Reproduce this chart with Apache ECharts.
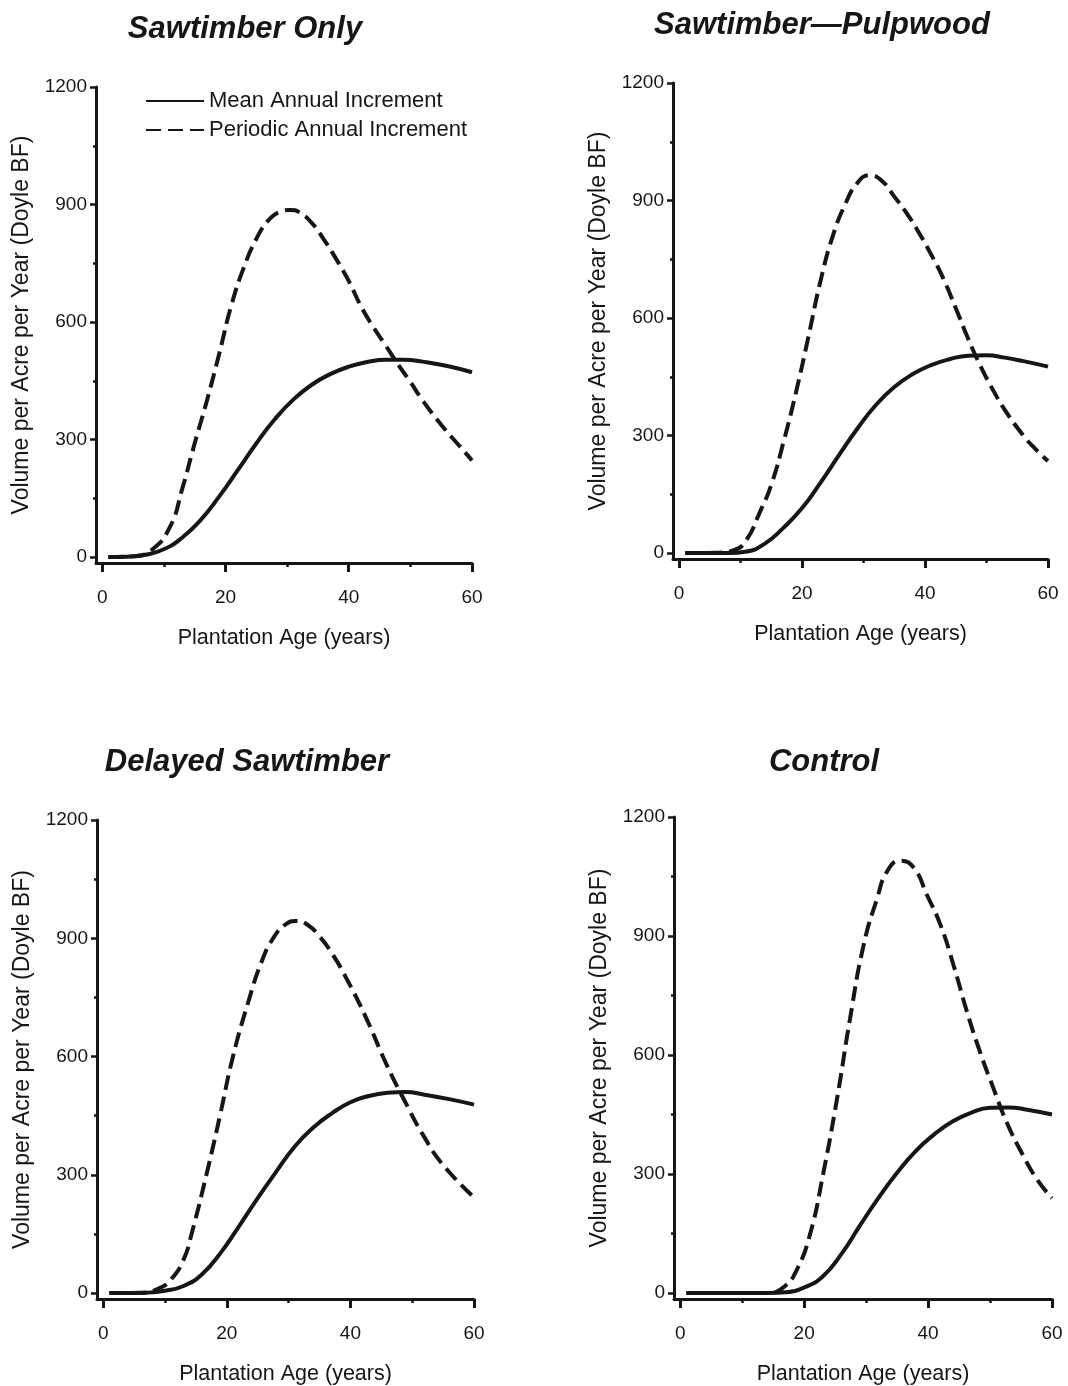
<!DOCTYPE html>
<html>
<head>
<meta charset="utf-8">
<script src="https://cdn.jsdelivr.net/npm/echarts@6/dist/echarts.min.js"></script>
<style>
html,body{margin:0;padding:0;background:#fff;}
#chart{width:1068px;height:1386px;}
</style>
</head>
<body>
<div id="chart"></div>
<script>
// ---- Data ----
const panelTitles = ['Sawtimber Only', 'Sawtimber\u2014Pulpwood', 'Delayed Sawtimber', 'Control'];
const seriesNames = ['Mean Annual Increment', 'Periodic Annual Increment'];
const xAxisName = 'Plantation Age (years)';
const yAxisName = 'Volume per Acre per Year (Doyle BF)';
const xTickLabels = [0, 20, 40, 60];
const xMinorTicks = [10, 30, 50];
const yTickLabels = [0, 300, 600, 900, 1200];
const yMinorTicks = [150, 450, 750, 1050];

// Sawtimber Only
const sawOnlyMaiAge = [1, 4, 7, 10, 13, 16, 19, 22, 25, 28, 31, 34, 37, 40, 43, 46, 49, 52, 56, 60];
const sawOnlyMai    = [0, 1, 6, 20, 50, 95, 155, 222, 290, 352, 402, 440, 467, 486, 498, 504, 504, 499, 488, 472];
const sawOnlyPaiAge = [1, 5, 8, 11, 13, 15, 17, 19, 21, 23, 25, 27, 29, 30.5, 32, 34, 36, 38, 40, 42, 44, 46, 48, 50, 52, 55, 58, 60];
const sawOnlyPai    = [0, 2, 18, 77, 175, 290, 400, 520, 645, 740, 812, 860, 882, 886, 880, 853, 810, 760, 705, 640, 587, 540, 492, 447, 400, 338, 283, 247];

// Sawtimber-Pulpwood
const sawPulpMaiAge = [1, 8, 11, 14, 17, 20, 23, 26, 29, 32, 35, 38, 41, 44, 47, 50, 53, 56, 60];
const sawPulpMai    = [0, 0, 4, 25, 65, 115, 180, 250, 318, 378, 424, 457, 480, 495, 504, 505, 499, 490, 476];
const sawPulpPaiAge = [1, 6, 9, 11, 13, 15, 17, 19, 21, 23, 25, 27, 29, 31, 33, 35, 37, 39, 41, 43, 45, 47, 49, 51, 53, 56, 58, 60];
const sawPulpPai    = [0, 1, 8, 35, 100, 175, 285, 410, 550, 695, 810, 890, 945, 965, 950, 910, 868, 818, 762, 700, 625, 548, 478, 418, 365, 300, 265, 235];

// Delayed Sawtimber
const delayMaiAge = [1, 4, 7, 10, 13, 16, 19, 22, 25, 28, 31, 34, 37, 40, 43, 46, 49, 52, 56, 60];
const delayMai    = [0, 0, 1, 6, 18, 48, 102, 170, 241, 308, 372, 420, 456, 484, 500, 508, 510, 503, 492, 478];
const delayPaiAge = [1, 6, 9, 11, 13, 14.3, 16.7, 18.9, 21, 23.7, 25.5, 27.5, 29.5, 31.2, 33, 35, 37, 39.4, 42.6, 45.9, 48.6, 51.8, 55, 60];
const delayPai    = [0, 1, 12, 35, 85, 150, 300, 450, 600, 750, 835, 900, 935, 944, 935, 905, 862, 797, 696, 578, 493, 400, 325, 243];

// Control
const controlMaiAge = [1, 5, 10, 14, 17, 20, 23, 26, 29, 32, 35, 38, 41, 44, 47, 50, 53, 56, 60];
const controlMai    = [0, 0, 0, 0, 2, 14, 42, 98, 170, 240, 303, 358, 400, 433, 455, 467, 468, 462, 450];
const controlPaiAge = [1, 14, 16.7, 18.8, 21, 23.1, 25.3, 27.4, 29.6, 31.8, 33.4, 35.5, 37.7, 39.8, 42, 44.1, 46.3, 48.4, 50.6, 52.7, 55.4, 57.6, 60];
const controlPai    = [0, 0, 15, 58, 151, 303, 489, 691, 877, 996, 1063, 1090, 1072, 1004, 928, 827, 708, 607, 514, 430, 345, 286, 239];

// ---- Layout ----
const INK = '#161616';
const FONT = 'Liberation Sans, Arial, sans-serif';
const panels = [
  {mai: [sawOnlyMaiAge, sawOnlyMai], pai: [sawOnlyPaiAge, sawOnlyPai], grid: {left: 96, top: 87, width: 376, height: 476}, title: {x: 245, y: 14}},
  {mai: [sawPulpMaiAge, sawPulpMai], pai: [sawPulpPaiAge, sawPulpPai], grid: {left: 673, top: 83, width: 375, height: 476}, title: {x: 822, y: 10}},
  {mai: [delayMaiAge, delayMai], pai: [delayPaiAge, delayPai], grid: {left: 97, top: 820, width: 377, height: 481}, title: {x: 247, y: 747}},
  {mai: [controlMaiAge, controlMai], pai: [controlPaiAge, controlPai], grid: {left: 674, top: 817, width: 378, height: 482}, title: {x: 824, y: 747}}
];

const zip = (a, b) => a.map((v, i) => [v, b[i]]);
const plain = v => String(v);

const grid = [], xAxis = [], yAxis = [], series = [], title = [];
panels.forEach((p, i) => {
  grid.push(Object.assign({containLabel: false}, p.grid));
  title.push({
    text: panelTitles[i], left: p.title.x, top: p.title.y, textAlign: 'center', padding: 0,
    textStyle: {fontFamily: FONT, fontSize: 31, fontWeight: 'bold', fontStyle: 'italic', color: INK}
  });
  xAxis.push({
    gridIndex: i, type: 'value', min: -1, max: 60,
    name: xAxisName, nameLocation: 'middle', nameGap: 64,
    nameTextStyle: {fontFamily: FONT, fontSize: 21.5, color: INK},
    axisLine: {show: true, onZero: false, lineStyle: {color: INK, width: 3}},
    axisTick: {show: true, customValues: xTickLabels, length: 9, lineStyle: {color: INK, width: 3}},
    axisLabel: {customValues: xTickLabels, formatter: plain, fontFamily: FONT, fontSize: 19, color: INK, margin: 25},
    splitLine: {show: false}
  });
  xAxis.push({
    gridIndex: i, type: 'value', min: -1, max: 60, position: 'bottom',
    axisLine: {show: false, onZero: false},
    axisTick: {show: true, customValues: xMinorTicks, length: 4, lineStyle: {color: INK, width: 2.5}},
    axisLabel: {show: false, customValues: xMinorTicks},
    splitLine: {show: false}
  });
  yAxis.push({
    gridIndex: i, type: 'value', min: -15, max: 1200,
    name: yAxisName, nameLocation: 'middle', nameGap: 63,
    nameTextStyle: {fontFamily: FONT, fontSize: 23, color: INK},
    axisLine: {show: true, onZero: false, lineStyle: {color: INK, width: 3}},
    axisTick: {show: true, customValues: yTickLabels, length: 6, lineStyle: {color: INK, width: 2.5}},
    axisLabel: {customValues: yTickLabels, formatter: plain, fontFamily: FONT, fontSize: 19, color: INK, margin: 9},
    splitLine: {show: false}
  });
  yAxis.push({
    gridIndex: i, type: 'value', min: -15, max: 1200, position: 'left',
    axisLine: {show: false, onZero: false},
    axisTick: {show: true, customValues: yMinorTicks, length: 3, lineStyle: {color: INK, width: 2.5}},
    axisLabel: {show: false, customValues: yMinorTicks},
    splitLine: {show: false}
  });
  const common = {type: 'line', xAxisIndex: 2 * i, yAxisIndex: 2 * i, symbol: 'none', smooth: 0.5, silent: true, z: 3};
  series.push(Object.assign({}, common, {
    name: seriesNames[0], data: zip(p.mai[0], p.mai[1]),
    lineStyle: {color: INK, width: 4, type: 'solid'}, itemStyle: {color: INK}
  }));
  series.push(Object.assign({}, common, {
    name: seriesNames[1], data: zip(p.pai[0], p.pai[1]),
    lineStyle: {color: INK, width: 4, type: [15, 7]}, itemStyle: {color: INK}
  }));
});

const chart = echarts.init(document.getElementById('chart'), null, {renderer: 'canvas'});
chart.setOption({
  animation: false,
  backgroundColor: '#ffffff',
  textStyle: {fontFamily: FONT},
  title: title,
  legend: {
    data: seriesNames, orient: 'vertical', left: 145, top: 90, padding: 0,
    itemWidth: 58, itemHeight: 20, itemGap: 7, selectedMode: false,
    itemStyle: {color: 'transparent', borderWidth: 0, opacity: 0},
    textStyle: {fontFamily: FONT, fontSize: 22, color: INK}
  },
  grid: grid, xAxis: xAxis, yAxis: yAxis, series: series
});
</script>
</body>
</html>
